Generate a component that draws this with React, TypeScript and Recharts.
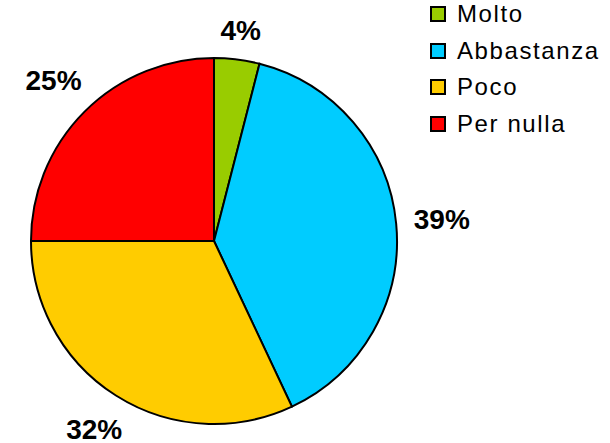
import React from 'react';
import { PieChart, Pie, Cell, Legend } from 'recharts';

const categories = ['Molto', 'Abbastanza', 'Poco', 'Per nulla'];
const values = [4, 39, 32, 25];
const colors = ['#99CC00', '#00CCFF', '#FFCC00', '#FF0000'];

const data = categories.map((name, i) => ({ name, value: values[i] }));

const RADIAN = Math.PI / 180;
const LABEL_SIZE = 28;

// place the label box just outside the rim, pushed out by its own half-size
const renderLabel = ({ cx, cy, midAngle, outerRadius, value }: any) => {
  const text = `${value}%`;
  const w = (text.length - 1) * 0.556 * LABEL_SIZE + 0.889 * LABEL_SIZE;
  const h = 0.72 * LABEL_SIZE;
  const dx = Math.cos(-midAngle * RADIAN);
  const dy = Math.sin(-midAngle * RADIAN);
  const extent = (w / 2) * Math.abs(dx) + (h / 2) * Math.abs(dy);
  const r = outerRadius + 17 + extent;
  return (
    <text
      x={cx + r * dx}
      y={cy + r * dy}
      textAnchor="middle"
      dominantBaseline="central"
      fill="#000"
      fontFamily="Liberation Sans, Arial, sans-serif"
      fontWeight="bold"
      fontSize={LABEL_SIZE}
    >
      {text}
    </text>
  );
};

const CustomLegend = () => (
  <div style={{ fontFamily: 'Liberation Sans, Arial, sans-serif' }}>
    {categories.map((name, i) => (
      <div
        key={name}
        style={{ display: 'flex', alignItems: 'center', height: 36.5 }}
      >
        <span
          style={{
            width: 12,
            height: 12,
            background: colors[i],
            border: '2px solid #000',
            marginRight: 11,
          }}
        />
        <span style={{ fontSize: 24, letterSpacing: 1.6, color: '#000' }}>{name}</span>
      </div>
    ))}
  </div>
);

export default function App() {
  return (
    <div style={{ position: 'absolute', left: 0, top: 0, background: '#fff' }}>
      <PieChart width={610} height={443} margin={{ top: 0, right: 0, bottom: 0, left: 0 }}>
        <Pie
          data={data}
          dataKey="value"
          cx={214}
          cy={241}
          outerRadius={183}
          startAngle={90}
          endAngle={-270}
          stroke="#000"
          strokeWidth={2}
          label={renderLabel}
          labelLine={false}
          isAnimationActive={false}
        >
          {data.map((entry, i) => (
            <Cell key={`cell-${i}`} fill={colors[i]} />
          ))}
        </Pie>
        <Legend
          content={<CustomLegend />}
          wrapperStyle={{ position: 'absolute', left: 430, top: -4, width: 180 }}
        />
      </PieChart>
    </div>
  );
}
